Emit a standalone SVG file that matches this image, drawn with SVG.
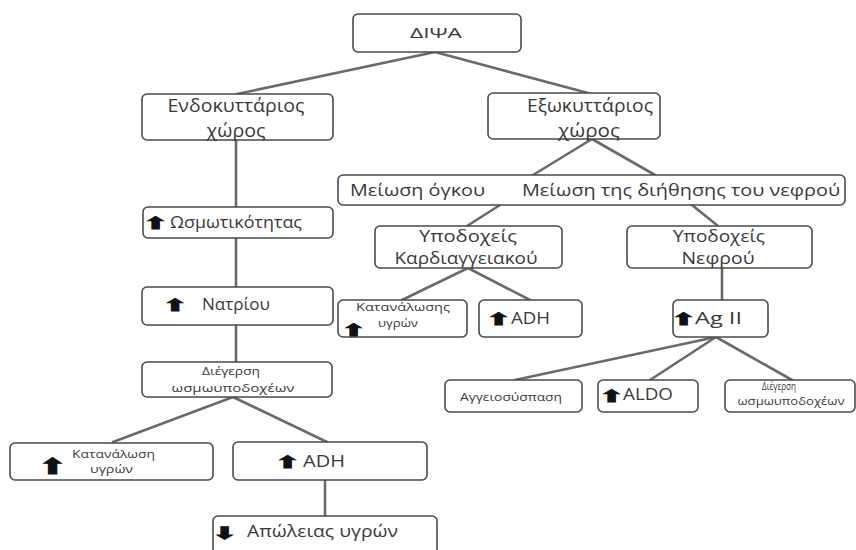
<svg xmlns="http://www.w3.org/2000/svg" width="856" height="550" viewBox="0 0 856 550">
  <style>
    .box { fill: #ffffff; stroke: #4a4a4a; stroke-width: 1.6; }
    .lbl { font-family: "Open Sans", "Liberation Sans", sans-serif; fill: #3a3a3a; font-size: 17px; }
    .big { font-size: 19px; }
    .sm { font-family: "Open Sans", "Liberation Sans", sans-serif; fill: #3a3a3a; font-size: 10px; }
    .mid { text-anchor: middle; }
    .arr { font-family: "DejaVu Sans", sans-serif; font-weight: bold; fill: #111111; stroke: #111111; stroke-width: 0.8; font-size: 17px; text-anchor: middle; }
    .conn line { stroke: #6a6a6a; stroke-width: 2.6; stroke-linecap: round; }
  </style>
  <rect width="856" height="550" fill="#ffffff"/>

  <!-- connectors -->
  <g id="connectors" class="conn">
    <line x1="435" y1="52" x2="237" y2="94"/>
    <line x1="435" y1="52" x2="588" y2="93"/>
    <line x1="236" y1="140" x2="236" y2="207"/>
    <line x1="236" y1="238" x2="236" y2="287"/>
    <line x1="236" y1="325" x2="236" y2="362"/>
    <line x1="233" y1="397" x2="113" y2="442"/>
    <line x1="233" y1="397" x2="327" y2="442"/>
    <line x1="325" y1="480" x2="325" y2="516"/>
    <line x1="592" y1="139" x2="533" y2="175"/>
    <line x1="592" y1="139" x2="655" y2="175"/>
    <line x1="500" y1="205" x2="467" y2="226"/>
    <line x1="692" y1="205" x2="718" y2="226"/>
    <line x1="468" y1="268" x2="402" y2="300"/>
    <line x1="468" y1="268" x2="530" y2="300"/>
    <line x1="722" y1="268" x2="722" y2="300"/>
    <line x1="716" y1="337" x2="515" y2="380"/>
    <line x1="716" y1="337" x2="650" y2="380"/>
    <line x1="716" y1="337" x2="792" y2="380"/>
  </g>

  <g id="thirst">
    <rect class="box" x="353" y="14" width="168" height="38" rx="5"/>
    <text class="lbl mid" x="436" y="38" style="font-size:15px" textLength="52" lengthAdjust="spacingAndGlyphs">ΔΙΨΑ</text>
  </g>

  <g id="intracellular">
    <rect class="box" x="142" y="94" width="191" height="46" rx="5"/>
    <text class="lbl big mid" x="236" y="112" textLength="137" lengthAdjust="spacingAndGlyphs">Ενδοκυττάριος</text>
    <text class="lbl big mid" x="236" y="137" textLength="59" lengthAdjust="spacingAndGlyphs">χώρος</text>
  </g>

  <g id="extracellular">
    <rect class="box" x="488" y="93" width="172" height="46" rx="5"/>
    <text class="lbl big mid" x="590" y="112" textLength="126" lengthAdjust="spacingAndGlyphs">Εξωκυττάριος</text>
    <text class="lbl big mid" x="589" y="137" textLength="62" lengthAdjust="spacingAndGlyphs">χώρος</text>
  </g>

  <g id="volume-filtration">
    <rect class="box" x="338" y="175" width="507" height="30" rx="5"/>
    <text class="lbl" x="350" y="196" textLength="135" lengthAdjust="spacingAndGlyphs">Μείωση  όγκου</text>
    <text class="lbl" x="522" y="196" textLength="318" lengthAdjust="spacingAndGlyphs">Μείωση της διήθησης του νεφρού</text>
  </g>

  <g id="osmolality">
    <rect class="box" x="143" y="207" width="190" height="31" rx="5"/>
    <text class="arr" transform="translate(155.5 229) scale(1.7 1)">⬆</text>
    <text class="lbl" x="170" y="228" textLength="132" lengthAdjust="spacingAndGlyphs">Ωσμωτικότητας</text>
  </g>

  <g id="sodium">
    <rect class="box" x="142" y="287" width="191" height="38" rx="5"/>
    <text class="arr" transform="translate(175 311) scale(1.7 1)">⬆</text>
    <text class="lbl" x="202" y="310" textLength="68" lengthAdjust="spacingAndGlyphs">Νατρίου</text>
  </g>

  <g id="osmo-stim-left">
    <rect class="box" x="142" y="362" width="190" height="35" rx="5"/>
    <text class="sm mid" x="231" y="375" textLength="58" lengthAdjust="spacingAndGlyphs">Διέγερση</text>
    <text class="sm mid" x="233" y="392" textLength="123" lengthAdjust="spacingAndGlyphs">ωσμωυποδοχέων</text>
  </g>

  <g id="intake-left">
    <rect class="box" x="10" y="443" width="203" height="37" rx="5"/>
    <text class="arr" transform="translate(52.5 474) scale(1.5 1)" style="font-size:22px">⬆</text>
    <text class="sm" x="72" y="458" textLength="83" lengthAdjust="spacingAndGlyphs">Κατανάλωση</text>
    <text class="sm" x="90" y="473" textLength="43" lengthAdjust="spacingAndGlyphs">υγρών</text>
  </g>

  <g id="adh-left">
    <rect class="box" x="233" y="442" width="194" height="38" rx="5"/>
    <text class="arr" transform="translate(287.5 468) scale(1.7 1)">⬆</text>
    <text class="lbl" x="303" y="467" textLength="42" lengthAdjust="spacingAndGlyphs">ADH</text>
  </g>

  <g id="fluid-loss">
    <rect class="box" x="213" y="516" width="224" height="44" rx="5"/>
    <text class="arr" transform="translate(224.5 539) scale(1.7 1)">⬇</text>
    <text class="lbl" x="247" y="537" textLength="151" lengthAdjust="spacingAndGlyphs">Απώλειας υγρών</text>
  </g>

  <g id="cardio-receptors">
    <rect class="box" x="375" y="226" width="187" height="42" rx="5"/>
    <text class="lbl mid" x="468" y="242" textLength="98" lengthAdjust="spacingAndGlyphs">Υποδοχείς</text>
    <text class="lbl mid" x="466" y="264" textLength="143" lengthAdjust="spacingAndGlyphs">Καρδιαγγειακού</text>
  </g>

  <g id="renal-receptors">
    <rect class="box" x="627" y="226" width="185" height="42" rx="5"/>
    <text class="lbl mid" x="719" y="242" textLength="92" lengthAdjust="spacingAndGlyphs">Υποδοχείς</text>
    <text class="lbl mid" x="718" y="264" textLength="73" lengthAdjust="spacingAndGlyphs">Νεφρού</text>
  </g>

  <g id="intake-right">
    <rect class="box" x="338" y="300" width="129" height="37" rx="5"/>
    <text class="arr" transform="translate(353.5 336) scale(1.7 1)">⬆</text>
    <text class="sm" x="356" y="311" textLength="94" lengthAdjust="spacingAndGlyphs">Κατανάλωσης</text>
    <text class="sm" x="378" y="327" textLength="40" lengthAdjust="spacingAndGlyphs">υγρών</text>
  </g>

  <g id="adh-right">
    <rect class="box" x="479" y="300" width="103" height="37" rx="5"/>
    <text class="arr" transform="translate(498.5 325) scale(1.7 1)">⬆</text>
    <text class="lbl" x="511" y="324" textLength="39" lengthAdjust="spacingAndGlyphs">ADH</text>
  </g>

  <g id="angiotensin">
    <rect class="box" x="673" y="300" width="95" height="37" rx="5"/>
    <text class="arr" transform="translate(683.5 325) scale(1.7 1)">⬆</text>
    <text class="lbl" x="695" y="324" textLength="47" lengthAdjust="spacingAndGlyphs">Ag II</text>
  </g>

  <g id="vasoconstriction">
    <rect class="box" x="445" y="380" width="137" height="32" rx="5"/>
    <text class="sm" x="460" y="401" textLength="102" lengthAdjust="spacingAndGlyphs">Αγγειοσύσπαση</text>
  </g>

  <g id="aldosterone">
    <rect class="box" x="598" y="380" width="100" height="32" rx="5"/>
    <text class="arr" transform="translate(611.5 402) scale(1.7 1)">⬆</text>
    <text class="lbl" x="623" y="400" textLength="50" lengthAdjust="spacingAndGlyphs">ALDO</text>
  </g>

  <g id="osmo-stim-right">
    <rect class="box" x="725" y="380" width="130" height="32" rx="5"/>
    <text class="sm mid" x="779" y="390" textLength="34" lengthAdjust="spacingAndGlyphs">Διέγερση</text>
    <text class="sm mid" x="791" y="405" textLength="107" lengthAdjust="spacingAndGlyphs">ωσμωυποδοχέων</text>
  </g>
</svg>
